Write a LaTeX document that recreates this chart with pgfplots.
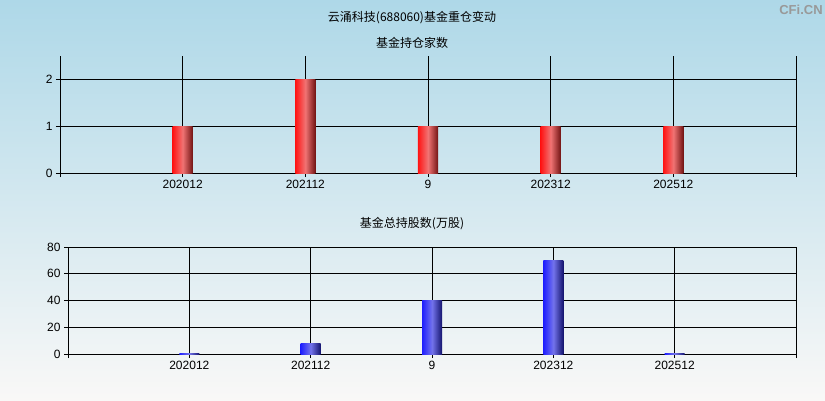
\documentclass[border=0pt]{standalone}
\usepackage{pgfplots}
\pgfplotsset{compat=1.18}
\usepackage{fontspec}
\setmainfont{Liberation Sans}
\newfontfamily\cjk{Noto Sans CJK SC}
\definecolor{bgtop}{RGB}{174,216,232}
\definecolor{bgbot}{RGB}{249,248,247}
\definecolor{rl}{RGB}{255,20,20}
\definecolor{rm}{RGB}{240,115,115}
\definecolor{rr}{RGB}{115,20,20}
\definecolor{bl}{RGB}{30,30,255}
\definecolor{bm}{RGB}{115,115,235}
\definecolor{br}{RGB}{20,20,110}
\pgfplotsset{
  cfi/.style={
    scale only axis,
    xmin=0, xmax=6,
    xtick={0,...,6},
    xticklabels={,202012,202112,9,202312,202512,},
    axis lines*=left,
    axis line style={black, line width=0.8pt},
    grid=major,
    grid style={black, line width=0.8pt},
    tick align=outside,
    major tick length=4pt,
    tick style={black, line width=0.8pt},
    ticklabel style={font=\fontsize{12}{14}\selectfont},
    /pgf/number format/assume math mode=true,
  },
  redbar/.style={ybar, bar width=20pt, draw=none, forget plot,
    left color=rl, right color=rr, middle color=rm},
  bluebar/.style={ybar, bar width=20pt, draw=none, forget plot,
    left color=bl, right color=br, middle color=bm},
}
\begin{document}
\begin{tikzpicture}
\useasboundingbox (0pt,0pt) rectangle (825pt,400pt);
\shade[top color=bgtop, bottom color=bgbot] (0pt,0pt) rectangle (825pt,400pt);
\node[font=\cjk\fontsize{12}{14}\selectfont] at (412pt,382pt) {云涌科技(688060)基金重仓变动};
\node[font=\cjk\fontsize{12}{14}\selectfont] at (412pt,357pt) {基金持仓家数};
\node[font=\cjk\fontsize{12}{14}\selectfont] at (412pt,176pt) {基金总持股数(万股)};
\node[font=\bfseries\fontsize{13}{15}\selectfont, text=gray!80] at (801pt,390pt) {CFi.CN};

\begin{axis}[cfi, at={(60pt,227pt)}, anchor=south west,
  width=736pt, height=117pt,
  ymin=0, ymax=2.5, ytick={0,1,2}]
\addplot[redbar] coordinates {(1,1)};
\addplot[redbar] coordinates {(2,2)};
\addplot[redbar] coordinates {(3,1)};
\addplot[redbar] coordinates {(4,1)};
\addplot[redbar] coordinates {(5,1)};
\end{axis}

\begin{axis}[cfi, at={(68pt,46pt)}, anchor=south west,
  width=728pt, height=107pt,
  ymin=0, ymax=80, ytick={0,20,...,80}]
\addplot[bluebar] coordinates {(1,0.5)};
\addplot[bluebar] coordinates {(2,7.7)};
\addplot[bluebar] coordinates {(3,40)};
\addplot[bluebar] coordinates {(4,70)};
\addplot[bluebar] coordinates {(5,0.5)};
\end{axis}
\end{tikzpicture}
\end{document}
